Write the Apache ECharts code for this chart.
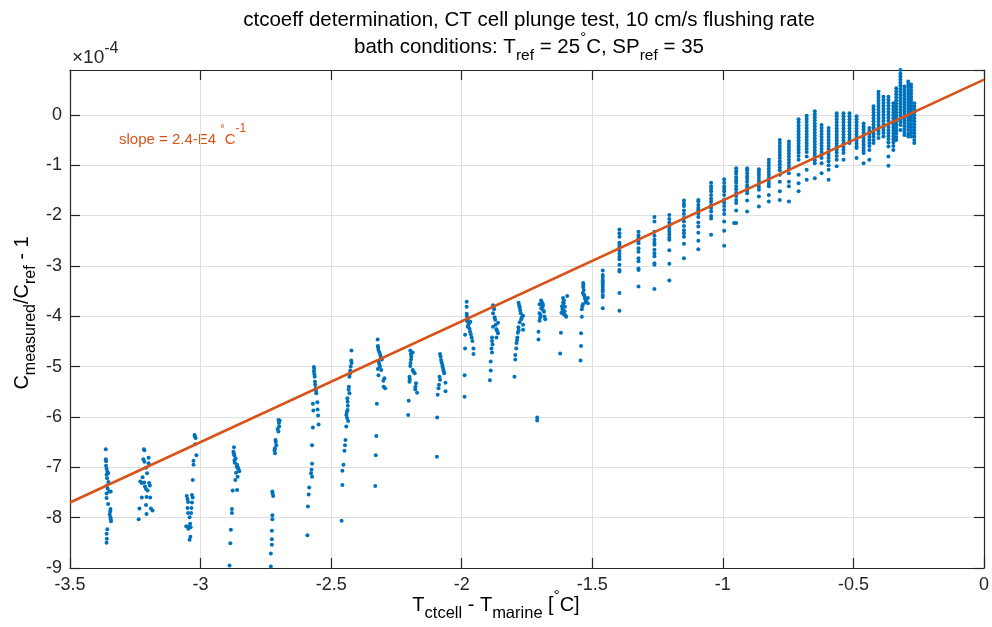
<!DOCTYPE html>
<html><head><meta charset="utf-8">
<script src="https://cdn.jsdelivr.net/npm/echarts@6/dist/echarts.min.js"></script>
<style>html,body{margin:0;padding:0;background:#fff}#c{width:992px;height:627px}</style>
</head><body><div id="c"></div>
<script>
// ---- axis settings (values in units of 1e-4) ----
const xRange = [-3.5, 0];
const yRange = [-9, 0.89];
const fitX = [-3.5, 0];
const fitY = [-7.70, 0.70];

// ---- left clusters: [dT, Cmeas/Cref - 1 (x1e-4)] ----
const c01 = [[-3.363,-6.64],[-3.363,-6.84],[-3.362,-6.88],[-3.362,-6.97],[-3.360,-7.03],[-3.357,-7.09],[-3.354,-7.12],[-3.360,-7.15],[-3.358,-7.22],[-3.353,-7.29],[-3.359,-7.36],[-3.356,-7.42],[-3.350,-7.48],[-3.344,-7.48],[-3.360,-7.52],[-3.360,-7.61],[-3.354,-7.73],[-3.345,-7.83],[-3.346,-7.88],[-3.348,-7.94],[-3.345,-7.99],[-3.344,-8.03],[-3.343,-8.07],[-3.357,-8.23],[-3.360,-8.32],[-3.359,-8.42],[-3.360,-8.50]];
const c02 = [[-3.217,-6.64],[-3.215,-6.66],[-3.219,-6.84],[-3.215,-6.89],[-3.199,-6.81],[-3.199,-6.92],[-3.209,-7.01],[-3.205,-7.12],[-3.222,-7.20],[-3.231,-7.28],[-3.225,-7.31],[-3.216,-7.30],[-3.197,-7.31],[-3.194,-7.36],[-3.213,-7.38],[-3.209,-7.43],[-3.203,-7.46],[-3.225,-7.60],[-3.207,-7.59],[-3.193,-7.60],[-3.209,-7.75],[-3.234,-7.82],[-3.190,-7.82],[-3.184,-7.86],[-3.207,-7.93],[-3.237,-8.03]];
const c03 = [[-3.023,-6.36],[-3.022,-6.39],[-3.019,-6.42],[-3.021,-6.54],[-3.016,-6.76],[-3.027,-6.87],[-3.027,-6.95],[-3.030,-7.25],[-3.053,-7.57],[-3.033,-7.55],[-3.048,-7.69],[-3.030,-7.60],[-3.050,-7.63],[-3.033,-7.70],[-3.050,-7.81],[-3.035,-7.81],[-3.048,-7.91],[-3.036,-7.91],[-3.042,-7.99],[-3.040,-8.12],[-3.055,-8.17],[-3.045,-8.18],[-3.038,-8.19],[-3.047,-8.22],[-3.039,-8.38],[-3.042,-8.44]];
const c04 = [[-2.872,-6.60],[-2.874,-6.69],[-2.873,-6.72],[-2.871,-6.76],[-2.866,-6.82],[-2.870,-6.86],[-2.869,-6.91],[-2.860,-6.95],[-2.862,-6.99],[-2.857,-7.00],[-2.856,-7.03],[-2.854,-7.05],[-2.852,-7.08],[-2.864,-7.11],[-2.858,-7.19],[-2.867,-7.25],[-2.877,-7.46],[-2.860,-7.45],[-2.880,-7.83],[-2.880,-7.91],[-2.884,-8.24],[-2.886,-8.51],[-2.889,-8.95]];
const c05 = [[-2.702,-6.06],[-2.697,-6.07],[-2.700,-6.12],[-2.699,-6.19],[-2.705,-6.24],[-2.702,-6.29],[-2.713,-6.46],[-2.712,-6.50],[-2.710,-6.56],[-2.715,-6.62],[-2.717,-6.66],[-2.715,-6.72],[-2.725,-7.48],[-2.724,-7.52],[-2.722,-7.57],[-2.725,-7.95],[-2.725,-8.03],[-2.727,-8.26],[-2.727,-8.43],[-2.727,-8.54],[-2.731,-8.71],[-2.731,-8.97]];
const c06 = [[-2.566,-5.01],[-2.565,-5.05],[-2.566,-5.10],[-2.564,-5.15],[-2.563,-5.20],[-2.562,-5.30],[-2.561,-5.36],[-2.559,-5.43],[-2.558,-5.48],[-2.557,-5.53],[-2.570,-5.74],[-2.553,-5.71],[-2.568,-5.87],[-2.552,-5.85],[-2.550,-5.97],[-2.548,-6.15],[-2.570,-6.21],[-2.573,-6.56],[-2.573,-6.93],[-2.575,-7.05],[-2.577,-7.12],[-2.573,-7.19],[-2.584,-7.40],[-2.586,-7.54],[-2.589,-7.78],[-2.591,-8.35]];
const c07 = [[-2.422,-4.68],[-2.423,-4.88],[-2.422,-4.93],[-2.425,-5.00],[-2.427,-5.08],[-2.428,-5.14],[-2.430,-5.20],[-2.432,-5.40],[-2.433,-5.46],[-2.430,-5.53],[-2.438,-5.63],[-2.437,-5.70],[-2.436,-5.78],[-2.437,-5.86],[-2.440,-5.90],[-2.442,-5.96],[-2.439,-6.02],[-2.435,-6.08],[-2.442,-6.19],[-2.445,-6.46],[-2.447,-6.56],[-2.449,-6.67],[-2.453,-6.95],[-2.457,-7.07],[-2.457,-7.35],[-2.460,-8.06]];
const c08 = [[-2.322,-4.46],[-2.321,-4.59],[-2.320,-4.62],[-2.319,-4.67],[-2.315,-4.72],[-2.312,-4.77],[-2.310,-4.81],[-2.306,-4.86],[-2.318,-4.90],[-2.316,-4.95],[-2.313,-5.00],[-2.321,-5.05],[-2.308,-5.07],[-2.319,-5.17],[-2.296,-5.23],[-2.300,-5.28],[-2.299,-5.40],[-2.293,-5.43],[-2.325,-5.74],[-2.327,-6.38],[-2.329,-6.76],[-2.331,-7.37]];
const c09 = [[-2.197,-4.68],[-2.188,-4.72],[-2.195,-4.75],[-2.193,-4.80],[-2.194,-4.86],[-2.196,-4.93],[-2.197,-4.99],[-2.188,-5.07],[-2.185,-5.10],[-2.180,-5.13],[-2.200,-5.20],[-2.199,-5.25],[-2.200,-5.30],[-2.175,-5.33],[-2.177,-5.40],[-2.178,-5.45],[-2.171,-5.52],[-2.203,-5.68],[-2.205,-5.96]];
const c10 = [[-2.083,-4.75],[-2.081,-4.80],[-2.079,-4.87],[-2.077,-4.92],[-2.074,-4.97],[-2.073,-5.01],[-2.071,-5.05],[-2.069,-5.09],[-2.067,-5.13],[-2.085,-5.20],[-2.083,-5.26],[-2.087,-5.36],[-2.089,-5.43],[-2.092,-5.56],[-2.062,-5.32],[-2.062,-5.49],[-2.094,-6.01],[-2.095,-6.79]];
const c11 = [[-1.981,-3.71],[-1.981,-3.81],[-1.981,-3.95],[-1.980,-4.00],[-1.977,-4.06],[-1.979,-4.10],[-1.972,-4.14],[-1.975,-4.18],[-1.977,-4.21],[-1.970,-4.25],[-1.967,-4.11],[-1.968,-4.31],[-1.965,-4.36],[-1.962,-4.42],[-1.959,-4.49],[-1.987,-4.37],[-1.987,-4.64],[-1.955,-4.64],[-1.955,-4.75],[-1.989,-5.17],[-1.989,-5.60]];
const c12 = [[-1.880,-3.78],[-1.878,-3.82],[-1.876,-3.86],[-1.880,-3.94],[-1.874,-4.02],[-1.872,-4.07],[-1.861,-4.13],[-1.870,-4.17],[-1.880,-4.21],[-1.867,-4.26],[-1.864,-4.30],[-1.861,-4.34],[-1.867,-4.42],[-1.884,-4.42],[-1.884,-4.49],[-1.882,-4.56],[-1.886,-4.64],[-1.884,-4.72],[-1.889,-4.90],[-1.889,-5.08],[-1.892,-5.27]];
const c13 = [[-1.782,-3.73],[-1.780,-3.78],[-1.778,-3.82],[-1.776,-3.88],[-1.774,-3.94],[-1.765,-3.99],[-1.770,-4.02],[-1.772,-4.06],[-1.778,-4.12],[-1.765,-4.17],[-1.783,-4.22],[-1.782,-4.28],[-1.765,-4.27],[-1.785,-4.33],[-1.787,-4.42],[-1.788,-4.47],[-1.790,-4.53],[-1.791,-4.64],[-1.795,-4.77],[-1.795,-4.86],[-1.798,-5.20]];
const c14 = [[-1.696,-3.69],[-1.693,-3.72],[-1.702,-3.76],[-1.689,-3.76],[-1.690,-3.80],[-1.696,-3.84],[-1.688,-3.88],[-1.685,-3.91],[-1.702,-3.94],[-1.698,-3.98],[-1.683,-4.01],[-1.700,-4.03],[-1.680,-4.06],[-1.702,-4.09],[-1.706,-4.31],[-1.706,-4.46],[-1.711,-6.01],[-1.711,-6.07]];
const c15 = [[-1.596,-3.60],[-1.612,-3.64],[-1.609,-3.69],[-1.611,-3.72],[-1.610,-3.74],[-1.616,-3.80],[-1.605,-3.81],[-1.614,-3.86],[-1.606,-3.90],[-1.618,-3.93],[-1.609,-3.96],[-1.603,-3.98],[-1.600,-4.01],[-1.620,-4.33],[-1.623,-4.74]];
const c16 = [[-1.535,-3.34],[-1.534,-3.38],[-1.535,-3.42],[-1.533,-3.48],[-1.536,-3.54],[-1.532,-3.57],[-1.530,-3.60],[-1.528,-3.65],[-1.524,-3.69],[-1.526,-3.72],[-1.536,-3.76],[-1.538,-3.80],[-1.540,-3.86],[-1.540,-4.01],[-1.543,-4.34],[-1.543,-4.59],[-1.545,-4.88],[-1.517,-3.64],[-1.517,-3.74],[-0.957,-2.15]];

// ---- right part: vertical strips, one x per strip ----
const colX = [-1.460,-1.396,-1.323,-1.262,-1.205,-1.149,-1.094,-1.045,-0.995,-0.949,-0.907,-0.862,-0.824,-0.782,-0.747,-0.710,-0.679,-0.648,-0.622,-0.595,-0.564,-0.538,-0.515,-0.488,-0.461,-0.439,-0.423,-0.404,-0.385,-0.366,-0.347,-0.336,-0.320,-0.305,-0.290,-0.279,-0.267];
const colY = [
 [-3.09,-3.18,-3.22,-3.28,-3.31,-3.34,-3.38,-3.42,-3.47,-3.51,-3.58,-3.62,-3.84],
 [-2.28,-2.35,-2.42,-2.54,-2.58,-2.63,-2.70,-2.76,-2.82,-2.87,-2.98,-3.08,-3.11,-3.54,-3.89],
 [-2.32,-2.39,-2.45,-2.50,-2.55,-2.65,-2.72,-2.85,-2.91,-3.05,-3.08,-3.41],
 [-2.03,-2.12,-2.32,-2.40,-2.48,-2.54,-2.58,-2.68,-2.75,-2.81,-2.95,-2.98,-3.46],
 [-1.99,-2.07,-2.14,-2.21,-2.27,-2.32,-2.38,-2.44,-2.48,-2.69,-2.96,-3.29],
 [-1.70,-1.76,-1.81,-1.90,-1.97,-2.05,-2.12,-2.21,-2.29,-2.35,-2.42,-2.56,-2.85],
 [-1.69,-1.72,-1.79,-1.85,-1.90,-1.96,-2.03,-2.14,-2.22,-2.34,-2.50,-2.67],
 [-1.35,-1.42,-1.47,-1.52,-1.59,-1.66,-1.72,-1.79,-1.85,-1.92,-2.01,-2.06,-2.38],
 [-1.28,-1.35,-1.42,-1.47,-1.52,-1.59,-1.68,-1.74,-1.81,-1.89,-1.97,-2.12,-2.30,-2.60],
 [-1.06,-1.12,-1.17,-1.24,-1.30,-1.35,-1.42,-1.48,-1.55,-1.61,-1.69,-1.75,-1.90,-2.15],
 [-1.06,-1.10,-1.16,-1.22,-1.27,-1.33,-1.40,-1.45,-1.51,-1.56,-1.70,-1.92],
 [-1.08,-1.13,-1.19,-1.25,-1.31,-1.37,-1.43,-1.49,-1.62,-1.82],
 [-0.89,-0.95,-1.01,-1.07,-1.13,-1.19,-1.25,-1.31,-1.37,-1.42,-1.59,-1.72],
 [-0.50,-0.56,-0.62,-0.68,-0.74,-0.80,-0.86,-0.92,-0.98,-1.04,-1.10,-1.19,-1.33,-1.52,-1.69],
 [-0.53,-0.59,-0.65,-0.71,-0.77,-0.83,-0.89,-0.95,-1.01,-1.07,-1.16,-1.33,-1.42,-1.72],
 [-0.09,-0.15,-0.21,-0.27,-0.33,-0.39,-0.45,-0.51,-0.57,-0.63,-0.69,-0.75,-0.82,-0.89,-1.19,-1.36,-1.52],
 [-0.02,-0.08,-0.14,-0.20,-0.26,-0.32,-0.38,-0.44,-0.50,-0.56,-0.62,-0.68,-0.74,-0.83,-1.09,-1.29],
 [0.07,0.01,-0.05,-0.11,-0.17,-0.23,-0.29,-0.35,-0.41,-0.47,-0.53,-0.59,-0.65,-0.71,-0.77,-0.83,-0.90,-0.96,-1.26],
 [-0.20,-0.26,-0.32,-0.38,-0.44,-0.50,-0.56,-0.62,-0.68,-0.74,-0.80,-0.86,-0.96,-1.16],
 [-0.26,-0.32,-0.38,-0.44,-0.50,-0.56,-0.62,-0.68,-0.74,-0.80,-0.86,-0.92,-1.00,-1.09,-1.29],
 [0.03,-0.03,-0.09,-0.15,-0.21,-0.27,-0.33,-0.39,-0.45,-0.51,-0.57,-0.63,-0.69,-0.75,-0.82,-0.89,-1.02],
 [0.03,-0.03,-0.09,-0.15,-0.21,-0.27,-0.33,-0.39,-0.45,-0.51,-0.57,-0.64,-0.70,-0.76,-0.89],
 [0.03,-0.03,-0.09,-0.15,-0.21,-0.27,-0.33,-0.39,-0.45,-0.50,-0.56],
 [-0.03,-0.09,-0.15,-0.21,-0.27,-0.33,-0.39,-0.45,-0.51,-0.57,-0.63,-0.66,-0.86],
 [-0.17,-0.23,-0.29,-0.35,-0.41,-0.47,-0.53,-0.59,-0.65,-0.71,-0.76,-0.96],
 [-0.26,-0.32,-0.38,-0.44,-0.50,-0.56,-0.62,-0.70,-0.89],
 [0.17,0.11,0.05,-0.01,-0.07,-0.13,-0.19,-0.25,-0.31,-0.37,-0.43,-0.50,-0.56],
 [0.46,0.40,0.34,0.28,0.22,0.16,0.10,0.04,-0.02,-0.08,-0.14,-0.20,-0.26,-0.32,-0.38,-0.46],
 [0.36,0.30,0.24,0.18,0.12,0.06,0.00,-0.06,-0.12,-0.18,-0.24,-0.30,-0.36,-0.43],
 [0.36,0.30,0.24,0.18,0.12,0.06,0.00,-0.06,-0.12,-0.18,-0.24,-0.30,-0.36,-0.42,-0.48,-0.55,-0.63,-0.83,-1.01],
 [0.23,0.17,0.11,0.05,-0.01,-0.07,-0.13,-0.19,-0.25,-0.31,-0.37,-0.43,-0.49,-0.55,-0.62,-0.70],
 [0.53,0.47,0.41,0.35,0.29,0.23,0.17,0.11,0.05,-0.01,-0.07,-0.13,-0.19,-0.25,-0.31,-0.37,-0.44,-0.50],
 [0.89,0.82,0.76,0.70,0.64,0.58,0.52,0.46,0.40,0.34,0.28,0.22,0.16,0.10,0.04,-0.02,-0.08,-0.14,-0.20,-0.30],
 [0.56,0.50,0.44,0.38,0.32,0.26,0.20,0.14,0.08,0.02,-0.04,-0.10,-0.16,-0.22,-0.28,-0.34,-0.40],
 [0.66,0.60,0.54,0.48,0.42,0.36,0.30,0.24,0.18,0.12,0.06,0.00,-0.06,-0.12,-0.18,-0.24,-0.30,-0.37,-0.43],
 [0.60,0.54,0.48,0.42,0.36,0.30,0.24,0.18,0.12,0.06,0.00,-0.06,-0.12,-0.18,-0.24,-0.30,-0.36,-0.43],
 [0.23,0.17,0.11,0.05,-0.01,-0.07,-0.13,-0.19,-0.25,-0.31,-0.37,-0.43,-0.50,-0.56]
];

// ---- build point list ----
const pts = [].concat(c01,c02,c03,c04,c05,c06,c07,c08,c09,c10,c11,c12,c13,c14,c15,c16);
colX.forEach((x, i) => colY[i].forEach(y => pts.push([x, y])));
const fitData = fitX.map((x, i) => [x, fitY[i]]);

const F = "'Liberation Sans', Arial, Helvetica, sans-serif";
const INK = '#262626';
function rich(size, subSize, color) {
  return {
    n: {fontSize: size, lineHeight: 34, fontFamily: F, fill: color},
    sb: {fontSize: subSize, lineHeight: 15, verticalAlign: 'bottom', fontFamily: F, fill: color},
    sp: {fontSize: subSize - 1, lineHeight: 20, verticalAlign: 'top', fontFamily: F, fill: color},
    dg: {fontSize: Math.round(size * 0.75), lineHeight: 29, verticalAlign: 'top', fontFamily: F, fill: color}
  };
}
function txt(x, y, text, size, subSize, color, align, rot) {
  return {type: 'text', x: x, y: y, rotation: rot || 0, silent: true,
    style: {text: text, rich: rich(size, subSize, color), fill: color, fontFamily: F, fontSize: size,
      align: align || 'center', verticalAlign: 'middle'}};
}

const chart = echarts.init(document.getElementById('c'), null, {renderer: 'canvas'});
const axisLineStyle = {color: INK, width: 1.2};
chart.setOption({
  animation: false,
  backgroundColor: '#fff',
  grid: {left: 70, right: 3, top: 70, bottom: 59, containLabel: false},
  xAxis: [
    {type: 'value', min: xRange[0], max: xRange[1], interval: 0.5, position: 'bottom',
     axisLine: {show: true, onZero: false, lineStyle: axisLineStyle},
     axisTick: {show: true, inside: true, length: 10, lineStyle: axisLineStyle},
     axisLabel: {fontSize: 18, fontFamily: F, color: INK, margin: 8},
     splitLine: {show: true, lineStyle: {color: '#dfdfdf', width: 1}}},
    {type: 'value', min: xRange[0], max: xRange[1], interval: 0.5, position: 'top',
     axisLine: {show: true, onZero: false, lineStyle: axisLineStyle},
     axisTick: {show: true, inside: true, length: 10, lineStyle: axisLineStyle},
     axisLabel: {show: false}, splitLine: {show: false}}
  ],
  yAxis: [
    {type: 'value', min: yRange[0], max: yRange[1], interval: 1, position: 'left',
     axisLine: {show: true, onZero: false, lineStyle: axisLineStyle},
     axisTick: {show: true, inside: true, length: 10, lineStyle: axisLineStyle},
     axisLabel: {fontSize: 18, fontFamily: F, color: INK, margin: 8, showMaxLabel: false},
     splitLine: {show: true, lineStyle: {color: '#dfdfdf', width: 1}}},
    {type: 'value', min: yRange[0], max: yRange[1], interval: 1, position: 'right',
     axisLine: {show: true, onZero: false, lineStyle: axisLineStyle},
     axisTick: {show: true, inside: true, length: 10, lineStyle: axisLineStyle},
     axisLabel: {show: false}, splitLine: {show: false}}
  ],
  series: [
    {type: 'scatter', xAxisIndex: 0, yAxisIndex: 0, data: pts, symbol: 'circle', symbolSize: 4,
     itemStyle: {color: '#0072BD', opacity: 1}, emphasis: {disabled: true}, z: 2},
    {type: 'line', xAxisIndex: 0, yAxisIndex: 0, data: fitData, symbol: 'none',
     lineStyle: {color: '#D95319', width: 2.6}, emphasis: {disabled: true}, z: 3}
  ],
  graphic: [
    txt(529, 20, '{n|ctcoeff determination, CT cell plunge test, 10 cm/s flushing rate}', 20.5, 15.5, '#000'),
    txt(529, 47, '{n|bath conditions: T}{sb|ref}{n| = 25}{dg|°}{n|C, SP}{sb|ref}{n| = 35}', 20.5, 15.5, '#000'),
    txt(72, 58, '{n|×10}{sp|-4}', 19, 17, INK, 'left'),
    txt(119, 140, '{n|slope = 2.4-E4 }{dg|°}{n|C}{sp|-1}', 15, 13, '#D95319', 'left'),
    txt(496, 605, '{n|T}{sb|ctcell}{n| - T}{sb|marine}{n| [}{dg|°}{n|C]}', 20, 16.5, '#000'),
    txt(22, 313, '{n|C}{sb|measured}{n|/C}{sb|ref}{n| - 1}', 20, 16, '#000', 'center', Math.PI / 2)
  ]
});
</script>
</body></html>
